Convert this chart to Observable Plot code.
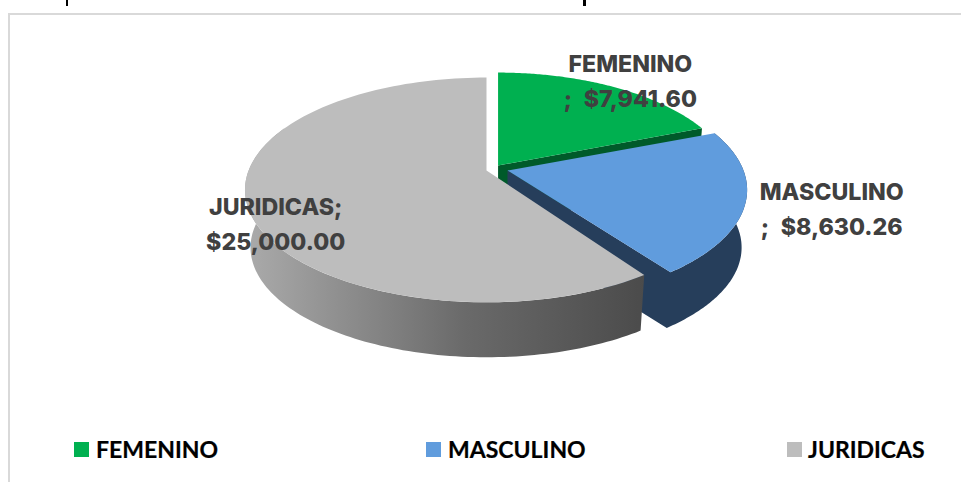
<!DOCTYPE html>
<html><head><meta charset="utf-8">
<script src="https://cdn.jsdelivr.net/npm/d3@7"></script>
<script src="https://cdn.jsdelivr.net/npm/@observablehq/plot@0.6"></script>
<style>
html,body{margin:0;padding:0;background:#fff;}
#wrap{position:relative;width:961px;height:482px;overflow:hidden;}
#frame{position:absolute;left:8px;top:13px;width:960px;height:480px;border:2px solid #d9d9d9;box-sizing:border-box;}
#chart{position:absolute;left:0;top:0;}
.cut{position:absolute;top:0;width:2.5px;height:6px;background:#000;}
.leg{position:absolute;top:435px;height:28px;font:700 23px/28px Lato,sans-serif;color:#000;white-space:nowrap;-webkit-text-stroke:0.2px #000;}
.sw{position:absolute;top:442px;width:15px;height:15px;}
</style></head><body>
<div id="wrap"><div id="frame"></div><div id="chart"></div></div>
<script>
// Data
const categories = ["FEMENINO", "MASCULINO", "JURIDICAS"];
const values = [7941.60, 8630.26, 25000.00];
const topColors = ["#00b050", "#609cdd", "#bdbdbd"];
const wallColors = ["#005a2a", "#263e5b", "url(#greyWall)"];
const labelSeparators = ["\n;\u2002", "\n;\u2002", ";\n"];

// Layout of the exploded 3D pie (in pie units: 1 = radius on the ground plane)
const tilt = 0.173, shrink = 0.977, depth = 0.532;
const apexes = [[0.049, -0.046], [0.089, 0], [0, 0]];
const spread = [0.985, 1, 1.008];
const startNudge = [0, 0, 0.032];
const labelRadius = [1.1, 1.34, 0.9];
const labelOffset = [[7.5, -1.5], [-0.5, -7.5], [3.5, 20]];

const total = d3.sum(values);
const angle = v => v / total * 2 * Math.PI;
let acc = 0;
const slices = categories.map((name, i) => {
  const a0 = acc; acc += angle(values[i]);
  return {name, i, a0: a0 + startNudge[i], a1: acc, value: values[i], apex: apexes[i], spread: spread[i]};
});

function project(s, a, r, low) {
  const u = r * Math.sin(a), v = r * Math.cos(a), d = 1 + tilt * v;
  const f = low ? shrink : 1;
  return {x: s.apex[0] + f * s.spread * u / d, y: s.apex[1] - f * v / d + (low ? depth : 0)};
}
const arc = (s, a0, a1, low) => d3.range(121).map(k => project(s, a0 + (a1 - a0) * k / 120, 1, low));
const topFace = s => [project(s, 0, 0, false), ...arc(s, s.a0, s.a1, false)];
const outerWall = (s, a1) => [...arc(s, s.a0, a1, false), ...arc(s, s.a0, a1, true).reverse()];
const radialWall = (s, a) => [project(s, a, 0, false), project(s, a, 1, false), project(s, a, 1, true), project(s, a, 0, true)];
// Outer wall and near radial wall of a slice as a single outline, so no seam shows
const fullWall = s => [...arc(s, s.a0, s.a1, false), project(s, 0, 0, false), project(s, 0, 0, true), ...arc(s, s.a0, s.a1, true).reverse()];
const poly = (pts, fill) => Plot.line([...pts, pts[0]], {x: "x", y: "y", fill, stroke: "none", curve: "linear"});

const [fem, mas, jur] = slices;
const fmt = d3.format("$,.2f");
const labels = slices.map((s, i) => {
  const p = project(s, (s.a0 + s.a1) / 2, labelRadius[i], false);
  return {x: p.x, y: p.y, text: s.name + labelSeparators[i] + fmt(s.value), dx: labelOffset[i][0], dy: labelOffset[i][1]};
});

const plot = Plot.plot({
  width: 961, height: 482, margin: 0,
  x: {domain: [-2, 2], range: [486 - 472, 486 + 472], axis: null},
  y: {domain: [-1.5, 2.5], range: [170 - 163.5, 170 + 272.5], axis: null},
  marks: [
    () => {
      const defs = d3.create("svg:defs");
      const g = defs.append("linearGradient").attr("id", "greyWall");
      [[0, "#ababab"], [0.55, "#6a6a6a"], [1, "#4b4b4b"]].forEach(([o, c]) =>
        g.append("stop").attr("offset", o).attr("stop-color", c));
      return defs.node();
    },
    poly(radialWall(fem, fem.a1), wallColors[0]),
    poly(topFace(fem), topColors[0]),
    poly(fullWall(mas), wallColors[1]),
    poly(topFace(mas), topColors[1]),
    poly(outerWall(jur, jur.a0 + 2.6), wallColors[2]),
    poly(topFace(jur), topColors[2]),
    ...labels.map(l => Plot.text([l], {
      x: "x", y: "y", text: "text", dx: l.dx, dy: l.dy,
      fill: "#404040", fontFamily: "Inter", fontWeight: 800, fontSize: 23.2, lineHeight: 1.52
    }))
  ]
});
document.getElementById("chart").appendChild(plot);

// Legend
const wrap = document.getElementById("wrap");
const swatchLeft = [74, 426, 787], textLeft = [96, 448, 808];
categories.forEach((name, i) => {
  const sw = document.createElement("div");
  sw.className = "sw"; sw.style.left = swatchLeft[i] + "px"; sw.style.background = topColors[i];
  wrap.appendChild(sw);
  const t = document.createElement("div");
  t.className = "leg"; t.style.left = textLeft[i] + "px"; t.textContent = name;
  wrap.appendChild(t);
});
// Stems of the heading that is cut off above the chart
[65.5, 583].forEach(x => {
  const c = document.createElement("div");
  c.className = "cut"; c.style.left = x + "px";
  wrap.appendChild(c);
});
</script>
</body></html>
